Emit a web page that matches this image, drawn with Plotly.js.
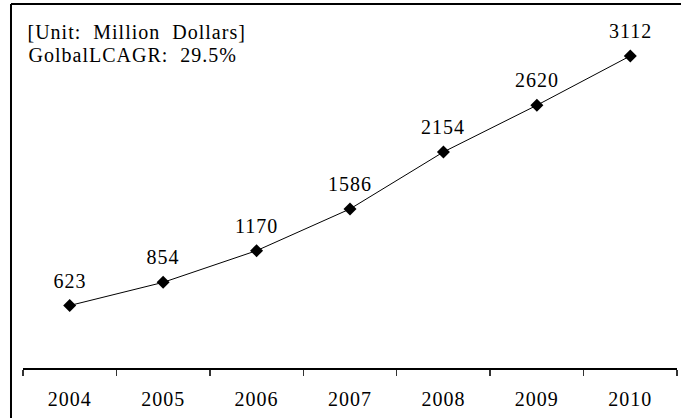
<!DOCTYPE html>
<html>
<head>
<meta charset="utf-8">
<script src="https://cdn.plot.ly/plotly-3.0.1.min.js"></script>
<style>
html,body{margin:0;padding:0;background:#fff;}
#chart{width:681px;height:418px;}
#chart text{letter-spacing:1px;}
</style>
</head>
<body>
<div id="chart"></div>
<script>
const years = ["2004", "2005", "2006", "2007", "2008", "2009", "2010"];
const values = [623, 854, 1170, 1586, 2154, 2620, 3112];
const noteLines = ["[Unit:&nbsp;&nbsp;Million&nbsp;&nbsp;Dollars]", "GolbalLCAGR:&nbsp;&nbsp;29.5%"];

const FONT = "Times New Roman, Liberation Serif, serif";

const trace = {
  type: "scatter",
  mode: "lines+markers",
  x: years,
  y: values,
  line: {color: "#000", width: 1},
  marker: {symbol: "diamond", size: 10, color: "#000"},
  hoverinfo: "none",
  showlegend: false
};

const annotations = years.map((yr, i) => ({
  x: i, y: values[i], xref: "x", yref: "y",
  text: String(values[i]), showarrow: false,
  yanchor: "middle", xanchor: "center", yshift: 25,
  font: {family: FONT, size: 20, color: "#000"}
}));

const noteY = [0.957, 0.892];
const noteShift = [10, 8];
noteLines.forEach((t, i) => {
  annotations.push({
    x: 0.0076, y: noteY[i], xref: "paper", yref: "paper",
    text: t, showarrow: false, xanchor: "left", yanchor: "middle", xshift: noteShift[i],
    font: {family: FONT, size: 20, color: "#000"}
  });
});

const layout = {
  width: 681, height: 418,
  margin: {l: 23, r: 4, t: 17, b: 50},
  paper_bgcolor: "#fff", plot_bgcolor: "#fff",
  font: {family: FONT, size: 20, color: "#000"},
  xaxis: {
    type: "category",
    range: [-0.5, 6.5],
    showline: true, linecolor: "#000", linewidth: 1.5,
    ticks: "outside", tickson: "boundaries", ticklen: 6, tickcolor: "#333", tickwidth: 1.5,
    showgrid: false, zeroline: false,
    ticklabelstandoff: 12,
    tickfont: {family: FONT, size: 20, color: "#000"}
  },
  yaxis: {visible: false, range: [0, 3500], showgrid: false, zeroline: false},
  annotations: annotations,
  shapes: [
    {type: "line", xref: "paper", yref: "paper", x0: -0.01835, x1: -0.01835, y0: -0.15, y1: 1.037,
     line: {color: "#000", width: 2}},
    {type: "line", xref: "paper", yref: "paper", x0: -0.01835, x1: 1.01, y0: 1.037, y1: 1.037,
     line: {color: "#000", width: 2}}
  ]
};

Plotly.newPlot("chart", [trace], layout, {staticPlot: true, displayModeBar: false});
</script>
</body>
</html>
